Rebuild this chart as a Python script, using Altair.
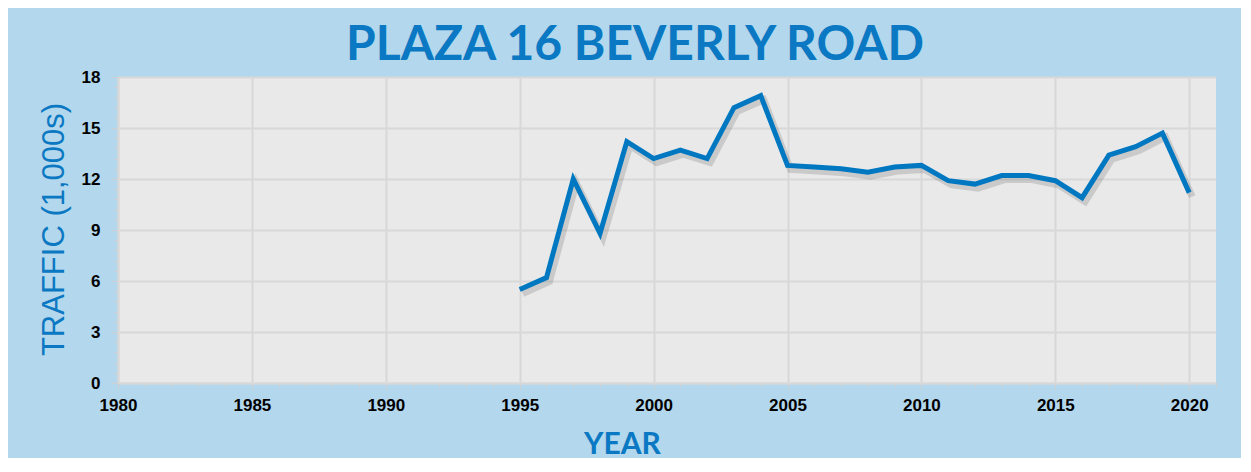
import altair as alt
import pandas as pd

# ---- data ----
years = list(range(1995, 2021))
traffic = [5.5, 6.2, 12.0, 8.8, 14.2, 13.2, 13.7, 13.2, 16.2, 16.9,
           12.8, 12.7, 12.6, 12.4, 12.7, 12.8, 11.9, 11.7, 12.2, 12.2,
           11.9, 10.9, 13.4, 13.9, 14.7, 11.2]

major_x = [1980, 1985, 1990, 1995, 2000, 2005, 2010, 2015, 2020]
major_y = [0, 3, 6, 9, 12, 15, 18]
minor_x = list(range(1980, 2022))
minor_y = [0, 0.6, 1.2, 1.8, 2.4, 3, 3.6, 4.2, 4.8, 5.4, 6, 6.6, 7.2, 7.8, 8.4,
           9, 9.6, 10.2, 10.8, 11.4, 12, 12.6, 13.2, 13.8, 14.4, 15, 15.6,
           16.2, 16.8, 17.4, 18]

BLUE = "#0A78C2"
LINE = "#0078C1"
BG = "#B3D7EC"
GRID = "#D8D8D8"

df = pd.DataFrame({"year": years, "traffic": traffic})

x_scale = alt.Scale(domain=[1980, 2021], nice=False, zero=False)
y_scale = alt.Scale(domain=[0, 18], nice=False)

label_style = dict(labelFont="Liberation Sans", labelFontWeight="bold",
                   labelFontSize=17, labelColor="black")

main = alt.Chart(df).mark_line(color=LINE, strokeWidth=5).encode(
    x=alt.X("year:Q", scale=x_scale,
            axis=alt.Axis(values=major_x, format="d", title="YEAR", orient="bottom",
                          grid=True, gridColor=GRID, gridWidth=2,
                          domainColor=GRID, domainWidth=2,
                          tickColor="#CFCFCF", tickSize=6, tickWidth=1,
                          labelPadding=8, labelFlush=False, **label_style,
                          titleFont="Lato", titleFontWeight="bold", titleFontSize=30,
                          titleColor=BLUE, titleX=504, titleY=70,
                          titleBaseline="alphabetic", titleAlign="center")),
    y=alt.Y("traffic:Q", scale=y_scale,
            axis=alt.Axis(values=major_y, title="TRAFFIC (1,000s)", orient="left",
                          grid=True, gridColor=GRID, gridWidth=2,
                          domainColor=GRID, domainWidth=2,
                          tickColor="#CFCFCF", tickSize=7, tickWidth=1,
                          labelPadding=11, **label_style,
                          titleFont="Liberation Sans", titleFontWeight="normal",
                          titleFontSize=31, titleColor=BLUE, titleX=-55, titleY=152,
                          titleBaseline="alphabetic", titleAlign="center", titleAngle=270)),
)

shadow = alt.Chart(df).mark_line(color="black", opacity=0.13, strokeWidth=7,
                                 xOffset=3, yOffset=4).encode(
    x=alt.X("year:Q", scale=x_scale, axis=None),
    y=alt.Y("traffic:Q", scale=y_scale, axis=None),
)

minor = alt.Chart(df).mark_line(opacity=0).encode(
    x=alt.X("year:Q", scale=x_scale,
            axis=alt.Axis(values=minor_x, labels=False, grid=False, domain=False,
                          tickColor="#CFCFCF", tickSize=4, tickWidth=1,
                          title=None, orient="bottom")),
    y=alt.Y("traffic:Q", scale=y_scale,
            axis=alt.Axis(values=minor_y, labels=False, grid=False, domain=False,
                          tickColor="#CFCFCF", tickSize=4, tickWidth=1,
                          title=None, orient="left")),
)

chart = alt.layer(minor, shadow, main).resolve_axis(
    x="independent", y="independent"
).properties(
    width=1098,
    height=306,
    background=BG,
    padding={"left": 110, "top": 69, "right": 25, "bottom": 75},
    autosize=alt.AutoSizeParams(type="none"),
    title=alt.TitleParams("PLAZA 16 BEVERLY ROAD", font="Lato", fontSize=48,
                          fontWeight="bold", color=BLUE, anchor="middle",
                          frame="group", dx=-32, dy=50, offset=10, baseline="alphabetic"),
).configure_view(fill="#E9E9E9", strokeWidth=0)

chart.save("out.html", embed_options={"renderer": "svg", "actions": False})
